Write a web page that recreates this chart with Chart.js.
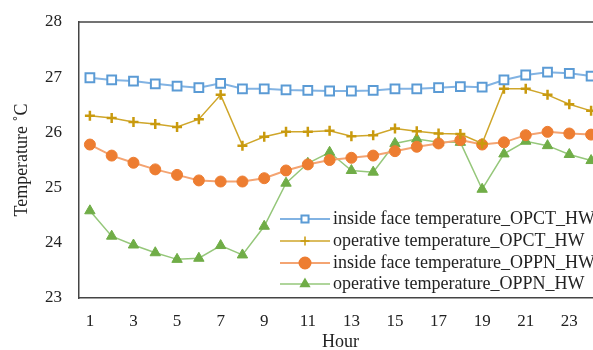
<!DOCTYPE html>
<html>
<head>
<meta charset="utf-8">
<script src="https://cdn.jsdelivr.net/npm/chart.js@4/dist/chart.umd.min.js"></script>
<style>
  html, body { margin: 0; padding: 0; background: #fff; overflow: hidden; width: 593px; height: 350px; }
  #wrap { width: 602px; height: 350px; }
</style>
</head>
<body>
<div id="wrap"><canvas id="tempChart" width="602" height="350"></canvas></div>
<script>
const hours = ['1','2','3','4','5','6','7','8','9','10','11','12','13','14','15','16','17','18','19','20','21','22','23','24'];
const insideOPCT = [26.99, 26.95, 26.93, 26.88, 26.84, 26.81, 26.89, 26.79, 26.79, 26.77, 26.76, 26.75, 26.75, 26.76, 26.79, 26.79, 26.81, 26.83, 26.82, 26.95, 27.04, 27.09, 27.07, 27.02];
const operOPCT = [26.30, 26.26, 26.19, 26.15, 26.10, 26.24, 26.68, 25.76, 25.92, 26.01, 26.01, 26.03, 25.93, 25.95, 26.07, 26.02, 25.98, 25.97, 25.80, 26.79, 26.79, 26.68, 26.51, 26.39];
const insideOPPN = [25.78, 25.58, 25.45, 25.33, 25.23, 25.13, 25.11, 25.11, 25.17, 25.31, 25.42, 25.50, 25.54, 25.58, 25.66, 25.74, 25.80, 25.86, 25.78, 25.82, 25.95, 26.01, 25.98, 25.96];
const operOPPN = [24.58, 24.12, 23.96, 23.82, 23.70, 23.72, 23.95, 23.78, 24.30, 25.08, 25.44, 25.64, 25.31, 25.28, 25.80, 25.88, 25.82, 25.82, 24.97, 25.61, 25.84, 25.76, 25.60, 25.49];

const serif = 'Liberation Serif';
const textColor = '#222';

// legend drawn inside the plot, lower right
const insideLegend = {
  id: 'insideLegend',
  afterDraw(chart) {
    const ctx = chart.ctx;
    const x0 = 280, x1 = 330, tx = 333;
    const rows = [219, 241, 263, 284];
    ctx.save();
    ctx.fillStyle = '#fff';
    ctx.fillRect(276, 208, chart.width - 276, 88);
    chart.data.datasets.forEach((ds, i) => {
      const y = rows[i];
      ctx.strokeStyle = ds.borderColor;
      ctx.lineWidth = ds.borderWidth;
      ctx.beginPath();
      ctx.moveTo(x0, y);
      ctx.lineTo(x1, y);
      ctx.stroke();
      ctx.fillStyle = ds.pointBackgroundColor;
      ctx.strokeStyle = ds.pointBorderColor;
      Chart.helpers.drawPoint(ctx, {
        pointStyle: ds.pointStyle,
        radius: ds.legendRadius,
        rotation: 0,
        borderWidth: ds.pointBorderWidth
      }, (x0 + x1) / 2, y);
      ctx.fillStyle = textColor;
      ctx.font = '18px "' + serif + '"';
      ctx.textBaseline = 'middle';
      ctx.textAlign = 'left';
      ctx.fillText(ds.label, tx, y);
    });
    ctx.restore();
  }
};

// plot frame top line
const frameTop = {
  id: 'frameTop',
  beforeDatasetsDraw(chart) {
    const { ctx, chartArea } = chart;
    ctx.save();
    ctx.strokeStyle = '#444';
    ctx.lineWidth = 1.5;
    ctx.beginPath();
    ctx.moveTo(chartArea.left, chartArea.top);
    ctx.lineTo(chartArea.right, chartArea.top);
    ctx.stroke();
    ctx.restore();
  }
};

// tick padding would otherwise be added to the plot margins
const noScalePadding = s => {
  s.paddingTop = 0;
  s.paddingBottom = 0;
  s.paddingLeft = 0;
  s.paddingRight = 0;
};

new Chart(document.getElementById('tempChart'), {
  type: 'line',
  data: {
    labels: hours,
    datasets: [
      {
        label: 'inside face temperature_OPCT_HW',
        data: insideOPCT,
        borderColor: '#82B3E3',
        borderWidth: 2,
        pointStyle: 'rect',
        pointRadius: 6.2,
        legendRadius: 5,
        pointBackgroundColor: '#fff',
        pointBorderColor: '#5B9BD5',
        pointBorderWidth: 2,
        tension: 0
      },
      {
        label: 'operative temperature_OPCT_HW',
        data: operOPCT,
        borderColor: '#CFA62A',
        borderWidth: 1.5,
        pointStyle: 'cross',
        pointRadius: 5,
        legendRadius: 4.5,
        pointBackgroundColor: '#C99A0E',
        pointBorderColor: '#C99A0E',
        pointBorderWidth: 2.5,
        tension: 0
      },
      {
        label: 'inside face temperature_OPPN_HW',
        data: insideOPPN,
        borderColor: '#F4A472',
        borderWidth: 2,
        pointStyle: 'circle',
        pointRadius: 5.5,
        legendRadius: 5.5,
        pointBackgroundColor: '#ED7D31',
        pointBorderColor: '#ED7D31',
        pointBorderWidth: 1,
        tension: 0
      },
      {
        label: 'operative temperature_OPPN_HW',
        data: operOPPN,
        borderColor: '#95C77A',
        borderWidth: 1.5,
        pointStyle: 'triangle',
        pointRadius: 6,
        legendRadius: 5,
        pointBackgroundColor: '#70AD47',
        pointBorderColor: '#70AD47',
        pointBorderWidth: 1,
        tension: 0
      }
    ]
  },
  options: {
    responsive: false,
    animation: false,
    layout: { autoPadding: false, padding: { top: 22, left: 10, right: 0, bottom: 0 } },
    plugins: {
      legend: { display: false },
      tooltip: { enabled: false }
    },
    scales: {
      x: {
        type: 'category',
        offset: true,
        grid: { display: false, drawTicks: false },
        border: { display: true, color: '#444', width: 1.5 },
        ticks: {
          autoSkip: false,
          maxRotation: 0,
          padding: 13,
          color: textColor,
          font: { family: serif, size: 17 },
          callback: (v, i) => (i % 2 === 0 ? hours[i] : '')
        },
        title: {
          display: true,
          text: 'Hour',
          color: textColor,
          font: { family: serif, size: 18 },
          padding: { top: 6, bottom: -3 }
        },
        afterFit: s => { noScalePadding(s); s.height = 52; }
      },
      y: {
        min: 23,
        max: 28,
        grid: { display: false, drawTicks: false },
        border: { display: true, color: '#444', width: 1.5 },
        ticks: {
          stepSize: 1,
          padding: 17,
          color: textColor,
          font: { family: serif, size: 17 }
        },
        title: {
          display: true,
          text: 'Temperature ˚C',
          color: textColor,
          font: { family: serif, size: 18 },
          padding: { top: 1, bottom: 0 }
        },
        afterFit: s => { noScalePadding(s); s.width = 69; }
      }
    }
  },
  plugins: [frameTop, insideLegend]
});
</script>
</body>
</html>
